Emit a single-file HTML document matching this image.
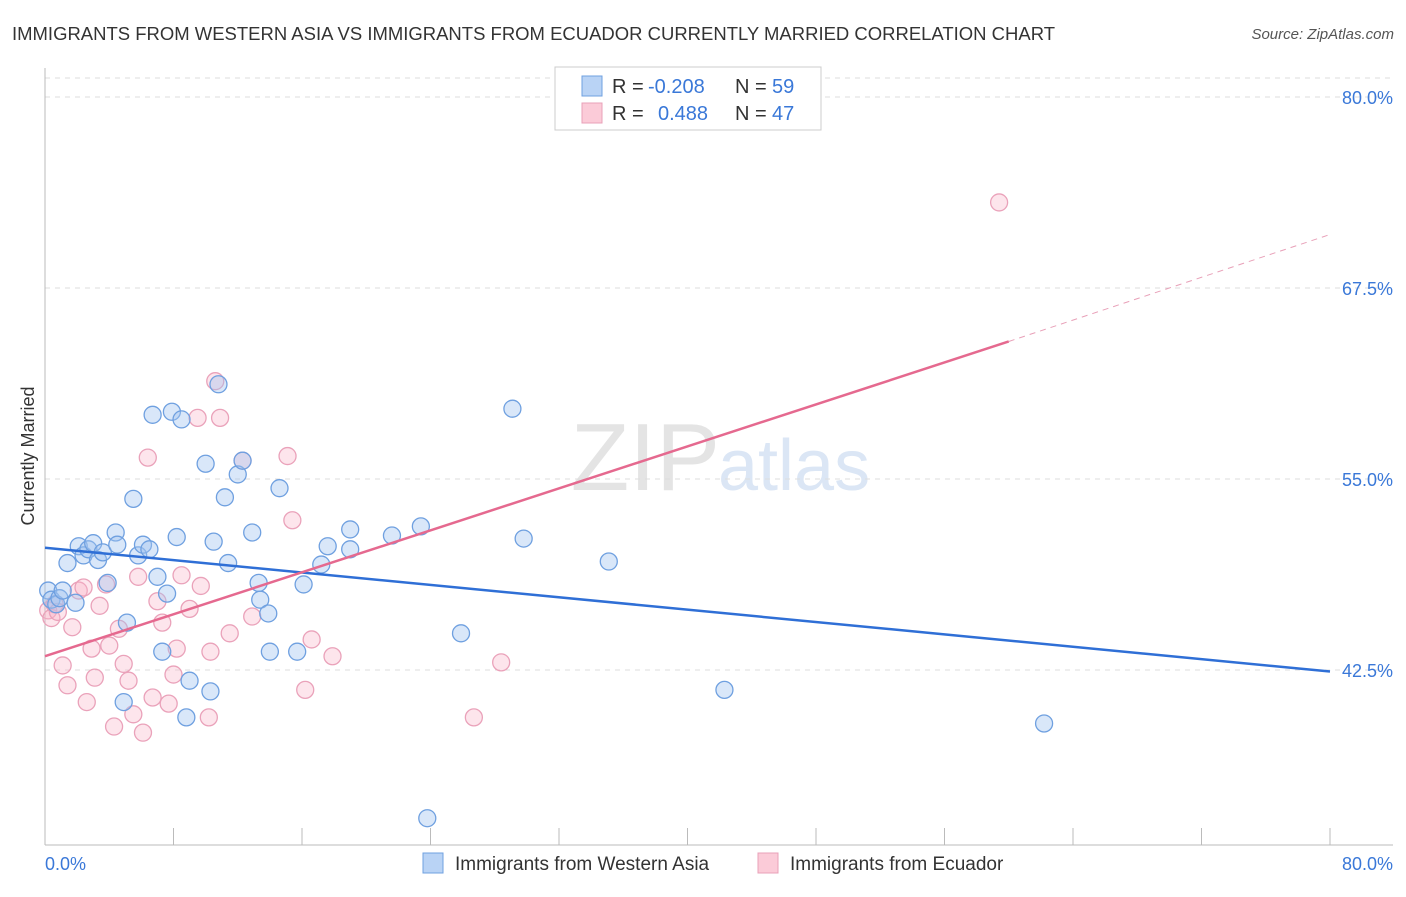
<!DOCTYPE html>
<html><head><meta charset="utf-8"><style>
body{margin:0;background:#fff;font-family:"Liberation Sans",sans-serif;}
svg text{font-family:"Liberation Sans",sans-serif;}
</style></head><body>
<svg width="1406" height="892">
<text x="12" y="40" font-size="18" fill="#333" textLength="1043" lengthAdjust="spacingAndGlyphs">IMMIGRANTS FROM WESTERN ASIA VS IMMIGRANTS FROM ECUADOR CURRENTLY MARRIED CORRELATION CHART</text>
<text x="1394" y="39" font-size="15" fill="#555" text-anchor="end" font-style="italic">Source: ZipAtlas.com</text>
<text x="34" y="456" font-size="18" fill="#333" text-anchor="middle" transform="rotate(-90 34 456)">Currently Married</text>
<text x="720" y="490" font-size="96" fill="#e4e4e4" text-anchor="end" font-family="Liberation Serif">ZIP</text>
<text x="718" y="490" font-size="72" fill="#dbe6f5">atlas</text>
<g id="grid"></g><g id="axes"></g><g id="pts"></g><g id="lines"></g>
<g>
<rect x="555" y="67" width="266" height="63" fill="#fff" stroke="#ccc"/>
<rect x="582" y="76" width="20" height="20" fill="#b9d3f5" stroke="#6fa0e0"/>
<rect x="582" y="103" width="20" height="20" fill="#fbcbd8" stroke="#e8a0b8"/>
<text x="612" y="93" font-size="20" fill="#333">R =</text>
<text x="648" y="93" font-size="20" fill="#3a78d8">-0.208</text>
<text x="735" y="93" font-size="20" fill="#333">N =</text>
<text x="772" y="93" font-size="20" fill="#3a78d8">59</text>
<text x="612" y="120" font-size="20" fill="#333">R =</text>
<text x="658" y="120" font-size="20" fill="#3a78d8">0.488</text>
<text x="735" y="120" font-size="20" fill="#333">N =</text>
<text x="772" y="120" font-size="20" fill="#3a78d8">47</text>
</g>
<g>
<rect x="423" y="853" width="20" height="20" fill="#b9d3f5" stroke="#6fa0e0"/>
<text x="455" y="870" font-size="19" fill="#333">Immigrants from Western Asia</text>
<rect x="758" y="853" width="20" height="20" fill="#fbcbd8" stroke="#e8a0b8"/>
<text x="790" y="870" font-size="19" fill="#333">Immigrants from Ecuador</text>
</g>
</svg>
<script>
const yTicks=[80,67.5,55,42.5];
const yTickLabels=["80.0%","67.5%","55.0%","42.5%"];
const blueX=[0.2,0.4,0.7,0.9,1.1,1.4,1.9,2.1,2.4,2.7,3.0,3.3,3.6,3.9,4.4,4.5,5.1,4.9,5.5,5.8,6.1,6.5,6.7,7.0,7.3,7.6,7.9,8.2,8.5,8.8,9.0,10.0,10.3,10.5,10.8,11.2,11.4,12.0,12.3,12.9,13.3,13.4,13.9,14.0,14.6,15.7,16.1,17.2,17.6,19.0,19.0,21.6,23.4,25.9,29.1,29.8,35.1,42.3,62.2,23.8];
const blueY=[47.7,47.1,46.8,47.2,47.7,49.5,46.9,50.6,50.0,50.4,50.8,49.7,50.2,48.2,51.5,50.7,45.6,40.4,53.7,50.0,50.7,50.4,59.2,48.6,43.7,47.5,59.4,51.2,58.9,39.4,41.8,56.0,41.1,50.9,61.2,53.8,49.5,55.3,56.2,51.5,48.2,47.1,46.2,43.7,54.4,43.7,48.1,49.4,50.6,50.4,51.7,51.3,51.9,44.9,59.6,51.1,49.6,41.2,39.0,32.8];
const pinkX=[0.2,0.4,0.6,0.8,1.1,1.4,1.7,2.1,2.4,2.6,2.9,3.1,3.4,3.8,4.0,4.3,4.6,4.9,5.2,5.5,5.8,6.1,6.4,6.7,7.0,7.3,7.7,8.0,8.2,8.5,9.0,9.5,9.7,10.2,10.3,10.6,10.9,11.5,12.3,12.9,15.1,15.4,16.2,16.6,17.9,26.7,28.4,59.4];
const pinkY=[46.4,45.9,46.8,46.3,42.8,41.5,45.3,47.7,47.9,40.4,43.9,42.0,46.7,48.1,44.1,38.8,45.2,42.9,41.8,39.6,48.6,38.4,56.4,40.7,47.0,45.6,40.3,42.2,43.9,48.7,46.5,59.0,48.0,39.4,43.7,61.4,59.0,44.9,56.2,46.0,56.5,52.3,41.2,44.5,43.4,39.4,43.0,73.1];
const blueTrend=[50.5,42.4];
const pinkTrend=[43.4,64.0,71.0];
const X=v=>45+v/80*1285, Y=v=>97+(80-v)*15.28;
const NS="http://www.w3.org/2000/svg";
function mk(t,a,p){const e=document.createElementNS(NS,t);for(const k in a)e.setAttribute(k,a[k]);document.getElementById(p).appendChild(e);return e;}
yTicks.forEach((t,i)=>{
 const l=mk('line',{x1:45,x2:1393,y1:Y(t),y2:Y(t),stroke:'#ddd','stroke-dasharray':'5,5'},'grid');
 
 
 const tx=mk('text',{x:1393,y:Y(t)+7,'font-size':18,fill:'#3a78d8','text-anchor':'end'},'grid');
 tx.textContent=yTickLabels[i];
 
 
});
mk('line',{x1:45,x2:1393,y1:78,y2:78,stroke:'#ddd','stroke-dasharray':'5,5'},'grid');
mk('line',{x1:45,x2:45,y1:68,y2:845,stroke:'#bbb'},'axes');
mk('line',{x1:45,x2:1393,y1:845,y2:845,stroke:'#bbb'},'axes');
for(let i=0;i<=10;i++){mk('line',{x1:X(i*8),x2:X(i*8),y1:828,y2:845,stroke:'#bbb'},'axes');}
let t0=mk('text',{x:45,y:870,'font-size':18,fill:'#3a78d8'},'axes');t0.textContent='0.0%';


let t1=mk('text',{x:1393,y:870,'font-size':18,fill:'#3a78d8','text-anchor':'end'},'axes');t1.textContent='80.0%';


pinkX.forEach((x,i)=>{const c=mk('circle',{cx:X(x),cy:Y(pinkY[i]),r:8.5,fill:'rgba(248,180,200,0.35)',stroke:'#eaa2ba','stroke-width':1.3},'pts');
 
 });
blueX.forEach((x,i)=>{const c=mk('circle',{cx:X(x),cy:Y(blueY[i]),r:8.5,fill:'rgba(160,195,240,0.4)',stroke:'#6fa0e0','stroke-width':1.3},'pts');
 
 });
let b=mk('line',{x1:X(0),y1:Y(blueTrend[0]),x2:X(80),y2:Y(blueTrend[1]),stroke:'#2f6fd6','stroke-width':2.5},'lines');


let p=mk('line',{x1:X(0),y1:Y(pinkTrend[0]),x2:X(60),y2:Y(pinkTrend[1]),stroke:'#e5698f','stroke-width':2.5},'lines');


let pd=mk('line',{x1:X(60),y1:Y(pinkTrend[1]),x2:X(80),y2:Y(pinkTrend[2]),stroke:'#e8a0b8','stroke-width':1,'stroke-dasharray':'6,5'},'lines');


</script>
</body></html>
